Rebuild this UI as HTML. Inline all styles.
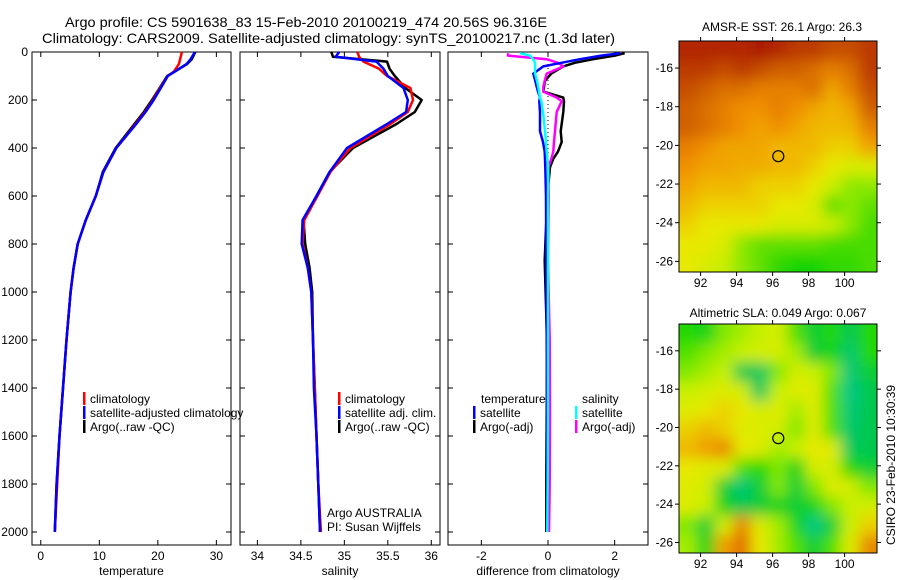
<!DOCTYPE html>
<html><head><meta charset="utf-8"><style>
body{margin:0;background:#fff;}
svg{display:block;font-family:"Liberation Sans",sans-serif;}
</style></head><body>
<svg id="c" width="900" height="580" xmlns="http://www.w3.org/2000/svg">
<rect width="900" height="580" fill="#fff"/>
<text x="65" y="27" font-size="14" textLength="482" lengthAdjust="spacingAndGlyphs">Argo profile: CS 5901638_83 15-Feb-2010 20100219_474 20.56S 96.316E</text>
<text x="42" y="43" font-size="14" textLength="573" lengthAdjust="spacingAndGlyphs">Climatology: CARS2009. Satellite-adjusted climatology: synTS_20100217.nc (1.3d later)</text>
<text x="782" y="31" font-size="12" text-anchor="middle">AMSR-E SST: 26.1 Argo: 26.3</text>
<text x="778" y="317" font-size="12" text-anchor="middle">Altimetric SLA: 0.049 Argo: 0.067</text>
<text transform="translate(895,465) rotate(-90)" font-size="12" text-anchor="middle">CSIRO 23-Feb-2010 10:30:39</text>
<g id="g"></g>
</svg>
<script>
// ---- data ----
const depthT = [0,10,30,50,80,100,150,200,250,300,400,500,600,700,800,900,1000,1200,1400,1600,1800,2000];
const tempArgo = [26.4,26.2,25.8,25.0,23.0,21.6,20.3,19.0,17.6,16.0,12.8,10.6,9.4,7.7,6.3,5.6,5.1,4.4,3.8,3.2,2.7,2.4];
const tempClim = [24.1,24.0,23.8,23.6,22.8,21.7,20.4,19.2,17.8,16.2,12.9,10.7,9.4,7.7,6.3,5.6,5.1,4.4,3.8,3.2,2.8,2.4];
const tempSat  = [26.3,26.1,25.6,24.9,23.0,21.7,20.5,19.3,17.9,16.3,12.9,10.7,9.4,7.7,6.3,5.6,5.1,4.4,3.8,3.2,2.7,2.4];
const depthS = [0,20,40,70,100,150,200,250,300,400,500,600,700,800,900,1000,1200,1400,1600,1800,2000];
const salArgo = [34.85,34.87,35.49,35.52,35.58,35.70,35.89,35.81,35.60,35.10,34.83,34.68,34.53,34.55,34.60,34.63,34.64,34.66,34.68,34.70,34.72];
const salClim = [35.15,35.17,35.22,35.40,35.49,35.76,35.79,35.73,35.53,35.07,34.84,34.69,34.54,34.52,34.58,34.62,34.64,34.66,34.68,34.70,34.73];
const salSat  = [34.94,34.90,35.37,35.45,35.50,35.68,35.73,35.71,35.49,35.03,34.83,34.68,34.52,34.51,34.58,34.62,34.64,34.65,34.68,34.70,34.72];
const depthD = [5,15,30,45,60,90,120,145,165,190,205,250,330,375,415,445,480,600,870,1200,1500,1800,2000];
const dTempArgo = [2.3,2.0,1.36,0.8,0.46,0.1,-0.09,-0.12,-0.14,0.46,0.48,0.46,0.38,0.41,0.3,0.16,0.06,-0.02,-0.1,-0.03,-0.04,-0.05,-0.05];
const dTempSat  = [2.17,1.6,0.96,0.4,-0.14,-0.44,-0.38,-0.34,-0.3,-0.24,-0.26,-0.24,-0.24,-0.15,-0.1,-0.09,-0.08,-0.06,-0.05,-0.04,-0.03,-0.02,-0.02];
const dSalArgo  = [-1.2,-1.2,-0.04,0.3,0.46,-0.04,-0.1,-0.14,-0.14,0.26,0.41,0.26,0.21,0.18,0.16,0.1,0.01,0.02,0.0,0.05,0.06,0.05,0.03];
const dSalSat   = [-0.84,-0.54,-0.45,-0.39,-0.39,-0.39,-0.33,-0.29,-0.27,-0.24,-0.2,-0.15,-0.09,-0.06,-0.04,-0.02,0.01,0.0,0.0,0.0,0.0,-0.01,-0.02];
const depthTicks = [0,200,400,600,800,1000,1200,1400,1600,1800,2000];
const tempTicks = [0,10,20,30];
const salTicks = [34,34.5,35,35.5,36];
const diffTicks = [-2,0,2];
const lonTicks = [92,94,96,98,100];
const latTicks = [-16,-18,-20,-22,-24,-26];
const sstGrid = [
[.05,.05,.05,.05,.02,.05,.1,.1,.15,.15,.1],
[.1,.1,.15,.1,.15,.2,.2,.25,.3,.25,.1],
[.15,.2,.25,.25,.3,.3,.3,.25,.4,.3,.15],
[.2,.25,.3,.35,.35,.3,.35,.4,.45,.4,.2],
[.2,.25,.3,.35,.4,.35,.4,.45,.45,.45,.3],
[.3,.35,.4,.4,.4,.45,.45,.45,.5,.5,.4],
[.35,.4,.4,.42,.42,.45,.45,.5,.55,.6,.6],
[.4,.45,.45,.45,.5,.5,.5,.55,.65,.75,.75],
[.45,.5,.5,.5,.5,.55,.55,.6,.8,.75,.8],
[.5,.55,.55,.55,.55,.6,.6,.6,.65,.75,.85],
[.55,.55,.6,.75,.8,.8,.8,.8,.85,.85,.85],
[.55,.6,.65,.75,.8,.9,.95,.95,.9,.9,.85]];
const slaGrid = [
[.6,.65,.5,.45,.4,.35,.55,.7,.6,.75,.6],
[.55,.5,.45,.4,.35,.35,.45,.7,.65,.85,.6],
[.5,.45,.4,.75,.8,.5,.35,.4,.5,.9,.7],
[.4,.35,.3,.35,.8,.4,.3,.3,.55,.95,.75],
[.3,.25,.2,.25,.35,.3,.45,.3,.55,.9,.75],
[.2,.15,.2,.3,.3,.35,.5,.3,.55,.85,.75],
[.15,.1,.05,.25,.3,.45,.4,.25,.3,.8,.75],
[.25,.3,.3,.55,.6,.5,.65,.35,.35,.6,.7],
[.3,.35,.7,.9,.7,.5,.7,.5,.3,.35,.5],
[.3,.4,.65,.75,.7,.65,.7,.65,.5,.4,.35],
[.5,.7,.35,.05,.3,.45,.65,.95,.7,.4,.2],
[.45,.65,.1,0,.25,.45,.55,.7,.55,.3,.05]];
const argoLon = 96.316, argoLat = -20.56;

// ---- layout ----
const NS='http://www.w3.org/2000/svg';
const g=document.getElementById('g');
function el(t,a,p){const e=document.createElementNS(NS,t);for(const k in a)e.setAttribute(k,a[k]);(p||g).appendChild(e);return e;}
const top0=52, bot=545, yScale=d=>top0+d*0.24;
const panels=[
 {name:'temperature',x0:32,x1:231,lo:-1.5,hi:32.5,ticks:tempTicks,label:'temperature'},
 {name:'salinity',x0:240,x1:440,lo:33.8,hi:36.1,ticks:salTicks,label:'salinity'},
 {name:'difference',x0:448,x1:648,lo:-3,hi:3,ticks:diffTicks,label:'difference from climatology'}];
panels.forEach(p=>{p.sx=v=>p.x0+(v-p.lo)/(p.hi-p.lo)*(p.x1-p.x0);});

panels.forEach((p,i)=>{
 const r=el('rect',{x:p.x0,y:top0,width:p.x1-p.x0,height:bot-top0,fill:'none',stroke:'#000','stroke-width':1});
 
 
 p.ticks.forEach(t=>{
  const x=p.sx(t);
  el('line',{x1:x,x2:x,y1:bot,y2:bot-5,stroke:'#000'});
  el('line',{x1:x,x2:x,y1:top0,y2:top0+5,stroke:'#000'});
  const tx=el('text',{x:x,y:bot+15,'font-size':12,'text-anchor':'middle'});tx.textContent=t;
  
  
 });
 depthTicks.forEach(d=>{
  const y=yScale(d);
  el('line',{x1:p.x0,x2:p.x0+5,y1:y,y2:y,stroke:'#000'});
  el('line',{x1:p.x1,x2:p.x1-5,y1:y,y2:y,stroke:'#000'});
  if(i===0){const tx=el('text',{x:p.x0-4,y:y+4,'font-size':12,'text-anchor':'end'});tx.textContent=d;
   
   }
 });
 const lb=el('text',{x:(p.x0+p.x1)/2,y:bot+30,'font-size':12,'text-anchor':'middle'});lb.textContent=p.label;
 
 
});
el('line',{x1:panels[2].sx(0),x2:panels[2].sx(0),y1:top0,y2:yScale(1000),stroke:'#000','stroke-dasharray':'1,3'});

function line(p,depths,vals,color,name,w){
 const pts=depths.map((d,k)=>p.sx(vals[k]).toFixed(1)+','+yScale(d).toFixed(1)).join(' ');
 const e=el('polyline',{points:pts,fill:'none',stroke:color,'stroke-width':w||2.5,'stroke-linejoin':'round'});
 
 
}
line(panels[0],depthT,tempArgo,'#000','temp-argo-line');
line(panels[0],depthT,tempClim,'#f00','temp-climatology-line');
line(panels[0],depthT,tempSat,'#00f','temp-satellite-line');
line(panels[1],depthS,salArgo,'#000','sal-argo-line');
line(panels[1],depthS,salClim,'#f00','sal-climatology-line');
line(panels[1],depthS,salSat,'#00f','sal-satellite-line');
line(panels[2],depthD,dTempArgo,'#000','diff-temp-argo-line');
line(panels[2],depthD,dSalArgo,'#f0f','diff-sal-argo-line');
line(panels[2],depthD,dTempSat,'#00f','diff-temp-satellite-line');
line(panels[2],depthD,dSalSat,'#0ff','diff-sal-satellite-line');

function legend(x,y,color,text,name){
 el('rect',{x:x,y:y-11,width:2.5,height:13,fill:color});
 const t=el('text',{x:x+7,y:y,'font-size':12});t.textContent=text;
 
 
}
legend(83,403,'#f00','climatology','legend-climatology');
legend(83,417,'#00f','satellite-adjusted climatology','legend-satellite-adjusted');
legend(83,431,'#000','Argo(..raw -QC)','legend-argo');
legend(338,403,'#f00','climatology','legend-sal-climatology');
legend(338,417,'#00f','satellite adj. clim.','legend-sal-satellite');
legend(338,431,'#000','Argo(..raw -QC)','legend-sal-argo');
const tl=el('text',{x:481,y:403,'font-size':12});tl.textContent='temperature';


const sl=el('text',{x:582,y:403,'font-size':12});sl.textContent='salinity';


legend(473,417,'#00f','satellite','legend-temp-satellite');
legend(473,431,'#000','Argo(-adj)','legend-temp-argo');
legend(575,417,'#0ff','satellite','legend-sal-satellite-diff');
legend(575,431,'#f0f','Argo(-adj)','legend-sal-argo-diff');
const a1=el('text',{x:327,y:517,'font-size':12});a1.textContent='Argo AUSTRALIA';


const a2=el('text',{x:327,y:531,'font-size':12});a2.textContent='PI: Susan Wijffels';



// ---- maps ----
function hex(c){return [parseInt(c.slice(1,3),16),parseInt(c.slice(3,5),16),parseInt(c.slice(5,7),16)];}
function ramp(stops,v){
 for(let i=1;i<stops.length;i++){if(v<=stops[i][0]){const a=stops[i-1],b=stops[i],f=(v-a[0])/(b[0]-a[0]||1);
  const ca=hex(a[1]),cb=hex(b[1]);return 'rgb('+ca.map((c,k)=>Math.round(c+(cb[k]-c)*f)).join(',')+')';}}
 return stops[stops.length-1][1];
}
const sstStops=[[0,'#a81400'],[.2,'#d06000'],[.35,'#f09000'],[.45,'#f0b800'],[.55,'#e8e800'],[.7,'#b8f000'],[.8,'#60e000'],[1,'#00d000']];
const slaStops=[[0,'#e07000'],[.1,'#f0a000'],[.25,'#e8e800'],[.4,'#c8f000'],[.5,'#80e800'],[.6,'#20d800'],[.75,'#00c850'],[1,'#00c890']];
const defs=el('defs',{});
function map(id,x0,x1,y0,y1,grid,stops){
 const lon0=90.8,lon1=101.8,lat0=-14.6,lat1=-26.55;
 const sx=v=>x0+(v-lon0)/(lon1-lon0)*(x1-x0), sy=v=>y0+(v-lat0)/(lat1-lat0)*(y1-y0);
 const cp=el('clipPath',{id:'cp'+id},defs);el('rect',{x:x0,y:y0,width:x1-x0,height:y1-y0},cp);
 const f=el('filter',{id:'bl'+id,x:'-20%',y:'-20%',width:'140%',height:'140%'},defs);
 el('feGaussianBlur',{stdDeviation:7},f);
 const outer=el('g',{'clip-path':'url(#cp'+id+')'});
 
 
 const inner=el('g',{filter:'url(#bl'+id+')'},outer);
 const nr=grid.length,nc=grid[0].length;
 for(let r=0;r<nr;r++)for(let c=0;c<nc;c++){
  let xa=sx(lon0+c),xb=sx(lon0+c+1),ya=sy(lat0-r),yb=sy(lat0-r-1);
  if(c===0)xa-=25; if(c===nc-1)xb+=25; if(r===0)ya-=25; if(r===nr-1)yb+=25;
  const cell=el('rect',{x:xa,y:ya,width:xb-xa+0.5,height:yb-ya+0.5,fill:ramp(stops,grid[r][c])},inner);
  
  
 }
 const fr=el('rect',{x:x0,y:y0,width:x1-x0,height:y1-y0,fill:'none',stroke:'#000'});
 
 
 lonTicks.forEach(t=>{const x=sx(t);
  el('line',{x1:x,x2:x,y1:y1,y2:y1+4,stroke:'#000'});el('line',{x1:x,x2:x,y1:y0,y2:y0-4,stroke:'#000'});
  const tx=el('text',{x:x,y:y1+15,'font-size':12,'text-anchor':'middle'});tx.textContent=t;
  
  });
 latTicks.forEach(t=>{const y=sy(t);
  el('line',{x1:x0,x2:x0-4,y1:y,y2:y,stroke:'#000'});el('line',{x1:x1,x2:x1+4,y1:y,y2:y,stroke:'#000'});
  const tx=el('text',{x:x0-6,y:y+4,'font-size':12,'text-anchor':'end'});tx.textContent=t;
  
  });
 const m=el('circle',{cx:sx(argoLon),cy:sy(argoLat),r:5.5,fill:'none',stroke:'#000','stroke-width':1.2});
 
 
}
map('sst',679,877,41,272,sstGrid,sstStops);
map('sla',679,877,324,553,slaGrid,slaStops);
</script>
</body></html>
